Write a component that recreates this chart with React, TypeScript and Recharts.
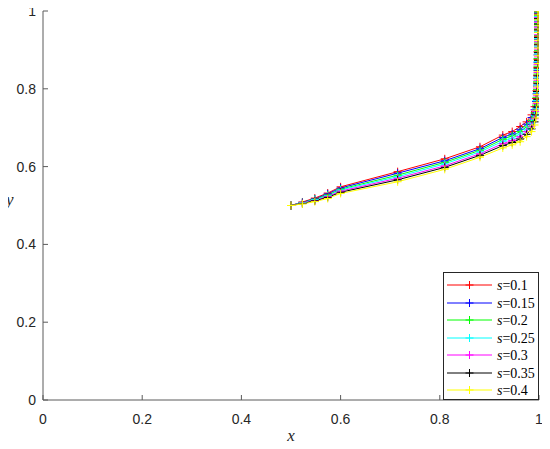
import React from 'react';
import { LineChart, Line, XAxis, YAxis, Label } from 'recharts';

// shared x trajectory (time steps)
const xSteps = [0.5, 0.523, 0.548, 0.574, 0.6, 0.715, 0.81, 0.881, 0.927, 0.946, 0.962, 0.975, 0.985, 0.991, 0.994, 0.995, 0.996, 0.996, 0.997, 0.997, 0.997, 0.998, 0.998, 0.998, 0.998, 0.998, 0.998, 0.998, 0.998, 0.998];

const yS010 = [0.5, 0.509, 0.519, 0.532, 0.548, 0.587, 0.62, 0.651, 0.681, 0.69, 0.703, 0.715, 0.733, 0.754, 0.775, 0.795, 0.815, 0.835, 0.855, 0.875, 0.895, 0.915, 0.935, 0.953, 0.968, 0.98, 0.989, 0.995, 0.998, 1.0];
const yS015 = [0.5, 0.508, 0.517, 0.53, 0.545, 0.583, 0.615, 0.646, 0.675, 0.684, 0.696, 0.709, 0.726, 0.746, 0.767, 0.787, 0.807, 0.827, 0.847, 0.867, 0.887, 0.907, 0.927, 0.945, 0.961, 0.974, 0.985, 0.992, 0.997, 1.0];
const yS020 = [0.5, 0.507, 0.516, 0.527, 0.542, 0.578, 0.611, 0.642, 0.67, 0.679, 0.69, 0.702, 0.719, 0.738, 0.758, 0.778, 0.798, 0.818, 0.838, 0.858, 0.878, 0.898, 0.918, 0.937, 0.954, 0.968, 0.98, 0.989, 0.995, 1.0];
const yS025 = [0.5, 0.507, 0.515, 0.525, 0.54, 0.574, 0.607, 0.638, 0.665, 0.673, 0.684, 0.696, 0.712, 0.731, 0.75, 0.77, 0.79, 0.81, 0.83, 0.85, 0.87, 0.89, 0.91, 0.929, 0.947, 0.963, 0.976, 0.986, 0.994, 1.0];
const yS030 = [0.5, 0.506, 0.513, 0.523, 0.537, 0.57, 0.602, 0.633, 0.659, 0.667, 0.677, 0.69, 0.704, 0.723, 0.742, 0.762, 0.782, 0.802, 0.822, 0.842, 0.862, 0.882, 0.902, 0.921, 0.939, 0.957, 0.971, 0.983, 0.993, 1.0];
const yS035 = [0.5, 0.505, 0.512, 0.521, 0.534, 0.566, 0.598, 0.629, 0.654, 0.662, 0.671, 0.683, 0.697, 0.715, 0.733, 0.753, 0.773, 0.793, 0.813, 0.833, 0.853, 0.873, 0.893, 0.913, 0.932, 0.951, 0.966, 0.98, 0.992, 1.0];
const yS040 = [0.5, 0.504, 0.51, 0.518, 0.531, 0.561, 0.593, 0.624, 0.648, 0.656, 0.664, 0.677, 0.69, 0.707, 0.725, 0.745, 0.765, 0.785, 0.805, 0.825, 0.845, 0.865, 0.885, 0.905, 0.925, 0.945, 0.962, 0.977, 0.99, 1.0];

const sLabels = ['0.1', '0.15', '0.2', '0.25', '0.3', '0.35', '0.4'];
const seriesColors = ['#ff0000', '#0000ff', '#00ff00', '#00ffff', '#ff00ff', '#000000', '#ffff00'];
const seriesY = [yS010, yS015, yS020, yS025, yS030, yS035, yS040];

const xTicks = [0, 0.2, 0.4, 0.6, 0.8, 1];
const yTicks = [0, 0.2, 0.4, 0.6, 0.8, 1];

const seriesData = seriesY.map((ys) => ys.map((y, i) => ({ x: xSteps[i], y })));

const AXIS = '#5a5a5a';
const TXT = '#262626';
const TICK_FONT = '"Liberation Sans", Arial, sans-serif';
const SERIF = '"Liberation Serif", "Times New Roman", serif';

const PlusDot = (props: any) => {
  const { cx, cy, stroke, index } = props;
  if (cx == null || cy == null) return null;
  const r = 4;
  return (
    <path
      key={`d-${index}-${cx}-${cy}`}
      d={`M${cx - r},${cy}H${cx + r}M${cx},${cy - r}V${cy + r}`}
      stroke={stroke}
      strokeWidth={1}
      fill="none"
    />
  );
};

const BottomTick = (props: any) => {
  const { x, y, payload } = props;
  return (
    <g>
      <line x1={x} x2={x} y1={y - 14} y2={y - 19} stroke={AXIS} />
      <text x={x} y={y} dy="0.71em" textAnchor="middle" fill={TXT} fontSize={14} style={{ fontFamily: TICK_FONT }}>
        {String(payload.value)}
      </text>
    </g>
  );
};

const LeftTick = (props: any) => {
  const { x, y, payload } = props;
  return (
    <g>
      <line x1={x + 7} x2={x + 12} y1={y} y2={y} stroke={AXIS} />
      <text x={x} y={y} dy="0.355em" textAnchor="end" fill={TXT} fontSize={14} style={{ fontFamily: TICK_FONT }}>
        {String(payload.value)}
      </text>
    </g>
  );
};

const TopTick = (props: any) => {
  const { x, y } = props;
  return <line x1={x} x2={x} y1={y} y2={y + 5} stroke={AXIS} />;
};

const RightTick = (props: any) => {
  const { x, y } = props;
  return <line x1={x - 5} x2={x} y1={y} y2={y} stroke={AXIS} />;
};

const LegendBox = () => {
  const w = 96;
  const h = 128;
  const step = 17.5;
  return (
    <svg width={w} height={h} style={{ position: 'absolute', left: 443, top: 272 }}>
      <rect x={0.5} y={0.5} width={w - 1} height={h - 1} fill="#ffffff" stroke={TXT} strokeWidth={1} />
      {sLabels.map((s, i) => {
        const cy = Math.round(13 + i * step);
        const c = seriesColors[i];
        return (
          <g key={s}>
            <line x1={4} x2={49} y1={cy} y2={cy} stroke={c} strokeWidth={1} />
            <path d={`M22.5,${cy}H30.5M26.5,${cy - 4}V${cy + 4}`} stroke={c} strokeWidth={1} />
            <text x={54} y={cy} dy="0.35em" fontSize={14} fill="#000" style={{ fontFamily: SERIF }}>
              <tspan style={{ fontStyle: 'italic' }}>s</tspan>
              <tspan>{'=' + s}</tspan>
            </text>
          </g>
        );
      })}
    </svg>
  );
};

export default function App() {
  return (
    <div style={{ position: 'relative', width: 550, height: 449, margin: -8, background: '#fff' }}>
      <LineChart width={550} height={449} margin={{ top: 11, right: 11, left: 0, bottom: 0 }}>
        <XAxis
          xAxisId="b"
          type="number"
          dataKey="x"
          domain={[0, 1]}
          ticks={xTicks}
          interval={0}
          height={49}
          tickSize={0}
          tickMargin={14}
          tickLine={false}
          tick={<BottomTick />}
          axisLine={{ stroke: AXIS }}
          allowDataOverflow
        >
          <Label
            value="x"
            position="insideBottom"
            offset={8}
            style={{ fontStyle: 'italic', fontFamily: SERIF, fontSize: 17, fill: TXT }}
          />
        </XAxis>
        <XAxis
          xAxisId="t"
          orientation="top"
          type="number"
          dataKey="x"
          domain={[0, 1]}
          ticks={xTicks}
          interval={0}
          height={0}
          tickSize={0}
          tickMargin={0}
          tickLine={false}
          tick={<TopTick />}
          axisLine={{ stroke: AXIS }}
          allowDataOverflow
        />
        <YAxis
          yAxisId="l"
          type="number"
          domain={[0, 1]}
          ticks={yTicks}
          interval={0}
          width={43}
          tickSize={0}
          tickMargin={7}
          tickLine={false}
          tick={<LeftTick />}
          axisLine={{ stroke: AXIS }}
          allowDataOverflow
        >
          <Label
            value="y"
            position="insideLeft"
            offset={6}
            dy={-7}
            style={{ fontStyle: 'italic', fontFamily: SERIF, fontSize: 17, fill: TXT }}
          />
        </YAxis>
        <YAxis
          yAxisId="r"
          orientation="right"
          type="number"
          domain={[0, 1]}
          ticks={yTicks}
          interval={0}
          width={0}
          tickSize={0}
          tickMargin={0}
          tickLine={false}
          tick={<RightTick />}
          axisLine={{ stroke: AXIS }}
          allowDataOverflow
        />
        {seriesData.map((d, i) => (
          <Line
            key={sLabels[i]}
            xAxisId="b"
            yAxisId="l"
            data={d}
            dataKey="y"
            type="linear"
            stroke={seriesColors[i]}
            strokeWidth={1}
            dot={<PlusDot />}
            activeDot={false}
            isAnimationActive={false}
          />
        ))}
      </LineChart>
      <LegendBox />
    </div>
  );
}
